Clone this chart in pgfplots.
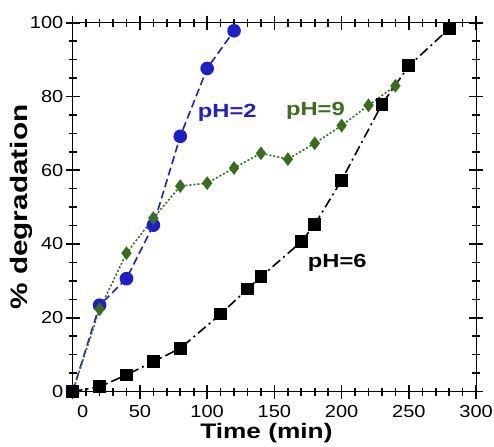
\documentclass[border=0pt]{standalone}
\usepackage{fontspec}
\setmainfont{Liberation Sans}[FakeStretch=1.15,BoldFeatures={FakeStretch=1.25}]
\usepackage{pgfplots}
\pgfplotsset{compat=1.18}
\definecolor{phblue}{RGB}{30,30,205}
\definecolor{phgreen}{RGB}{58,110,30}
\definecolor{tickcol}{RGB}{10,10,10}

\begin{document}
\begin{tikzpicture}
\begin{axis}[
    at={(0,0)}, anchor=south west,
    scale only axis, width=201.7pt, height=184.4pt,
    xmin=0, xmax=300, ymin=0, ymax=100,
    xtick={0,50,...,300}, ytick={0,20,...,100},
    xticklabels={{\makebox[0pt][l]{\hspace{2.2pt}0}},50,100,150,200,250,300},
    minor x tick num=4, minor y tick num=3,
    xtick pos=both, ytick pos=both,
    tick align=center,
    major tick length=7pt, minor tick length=4pt,
    every tick/.style={tickcol,line width=0.8pt},
    tick label style={font=\fontsize{8.7}{10}\selectfont},
    yticklabel style={inner xsep=1pt},
    /pgf/number format/assume math mode=true,
    xlabel={Time (min)},
    ylabel={\% degradation},
    xlabel style={font=\fontsize{10.5}{12}\selectfont\bfseries,
        at={(rel axis cs:0.5,0)}, anchor=center, yshift=-21pt, xshift=-4pt},
    ylabel style={font=\fontsize{11.9}{13}\selectfont\bfseries,
        at={(rel axis cs:0,0.5)}, anchor=center, xshift=0pt, yshift=25.4pt},
]
% pH=2
\addplot[phblue, line width=0.8pt, dash pattern=on 4pt off 2pt, mark=*, mark size=3pt,
    mark options={solid}] coordinates {
    (0,0) (20,23.4) (40,30.6) (60,45.1) (80,69.2) (100,87.6) (120,97.8)};
% pH=9
\addplot[phgreen, line width=0.8pt, dash pattern=on 1pt off 1pt, mark=diamond*, mark size=2.8pt,
    mark options={solid}] coordinates {
    (0,0) (20,22.3) (40,37.5) (60,47) (80,55.7) (100,56.5) (120,60.6)
    (140,64.6) (160,63) (180,67.3) (200,72.1) (220,77.6) (240,82.9)};
% pH=6
\addplot[black, line width=0.8pt, dash pattern=on 5pt off 2pt on 1pt off 2pt, mark=square*, mark size=2.8pt,
    mark options={solid}] coordinates {
    (0,0) (20,1.3) (40,4.5) (60,8.1) (80,11.7) (110,21) (130,27.8) (140,31.1)
    (170,40.6) (180,45.3) (200,57.3) (230,77.9) (250,88.3) (280,98.4)};
\node[phblue, font=\fontsize{9.5}{11}\selectfont\bfseries] at (axis cs:115,75.5) {pH=2};
\node[phgreen, font=\fontsize{9.5}{11}\selectfont\bfseries] at (axis cs:180.5,76) {pH=9};
\node[black, font=\fontsize{9.5}{11}\selectfont\bfseries] at (axis cs:196.8,34.9) {pH=6};
\end{axis}
\pgfresetboundingbox
\useasboundingbox (-36.35pt,-27.25pt) rectangle (210.65pt,195.75pt);
\end{tikzpicture}
\end{document}
